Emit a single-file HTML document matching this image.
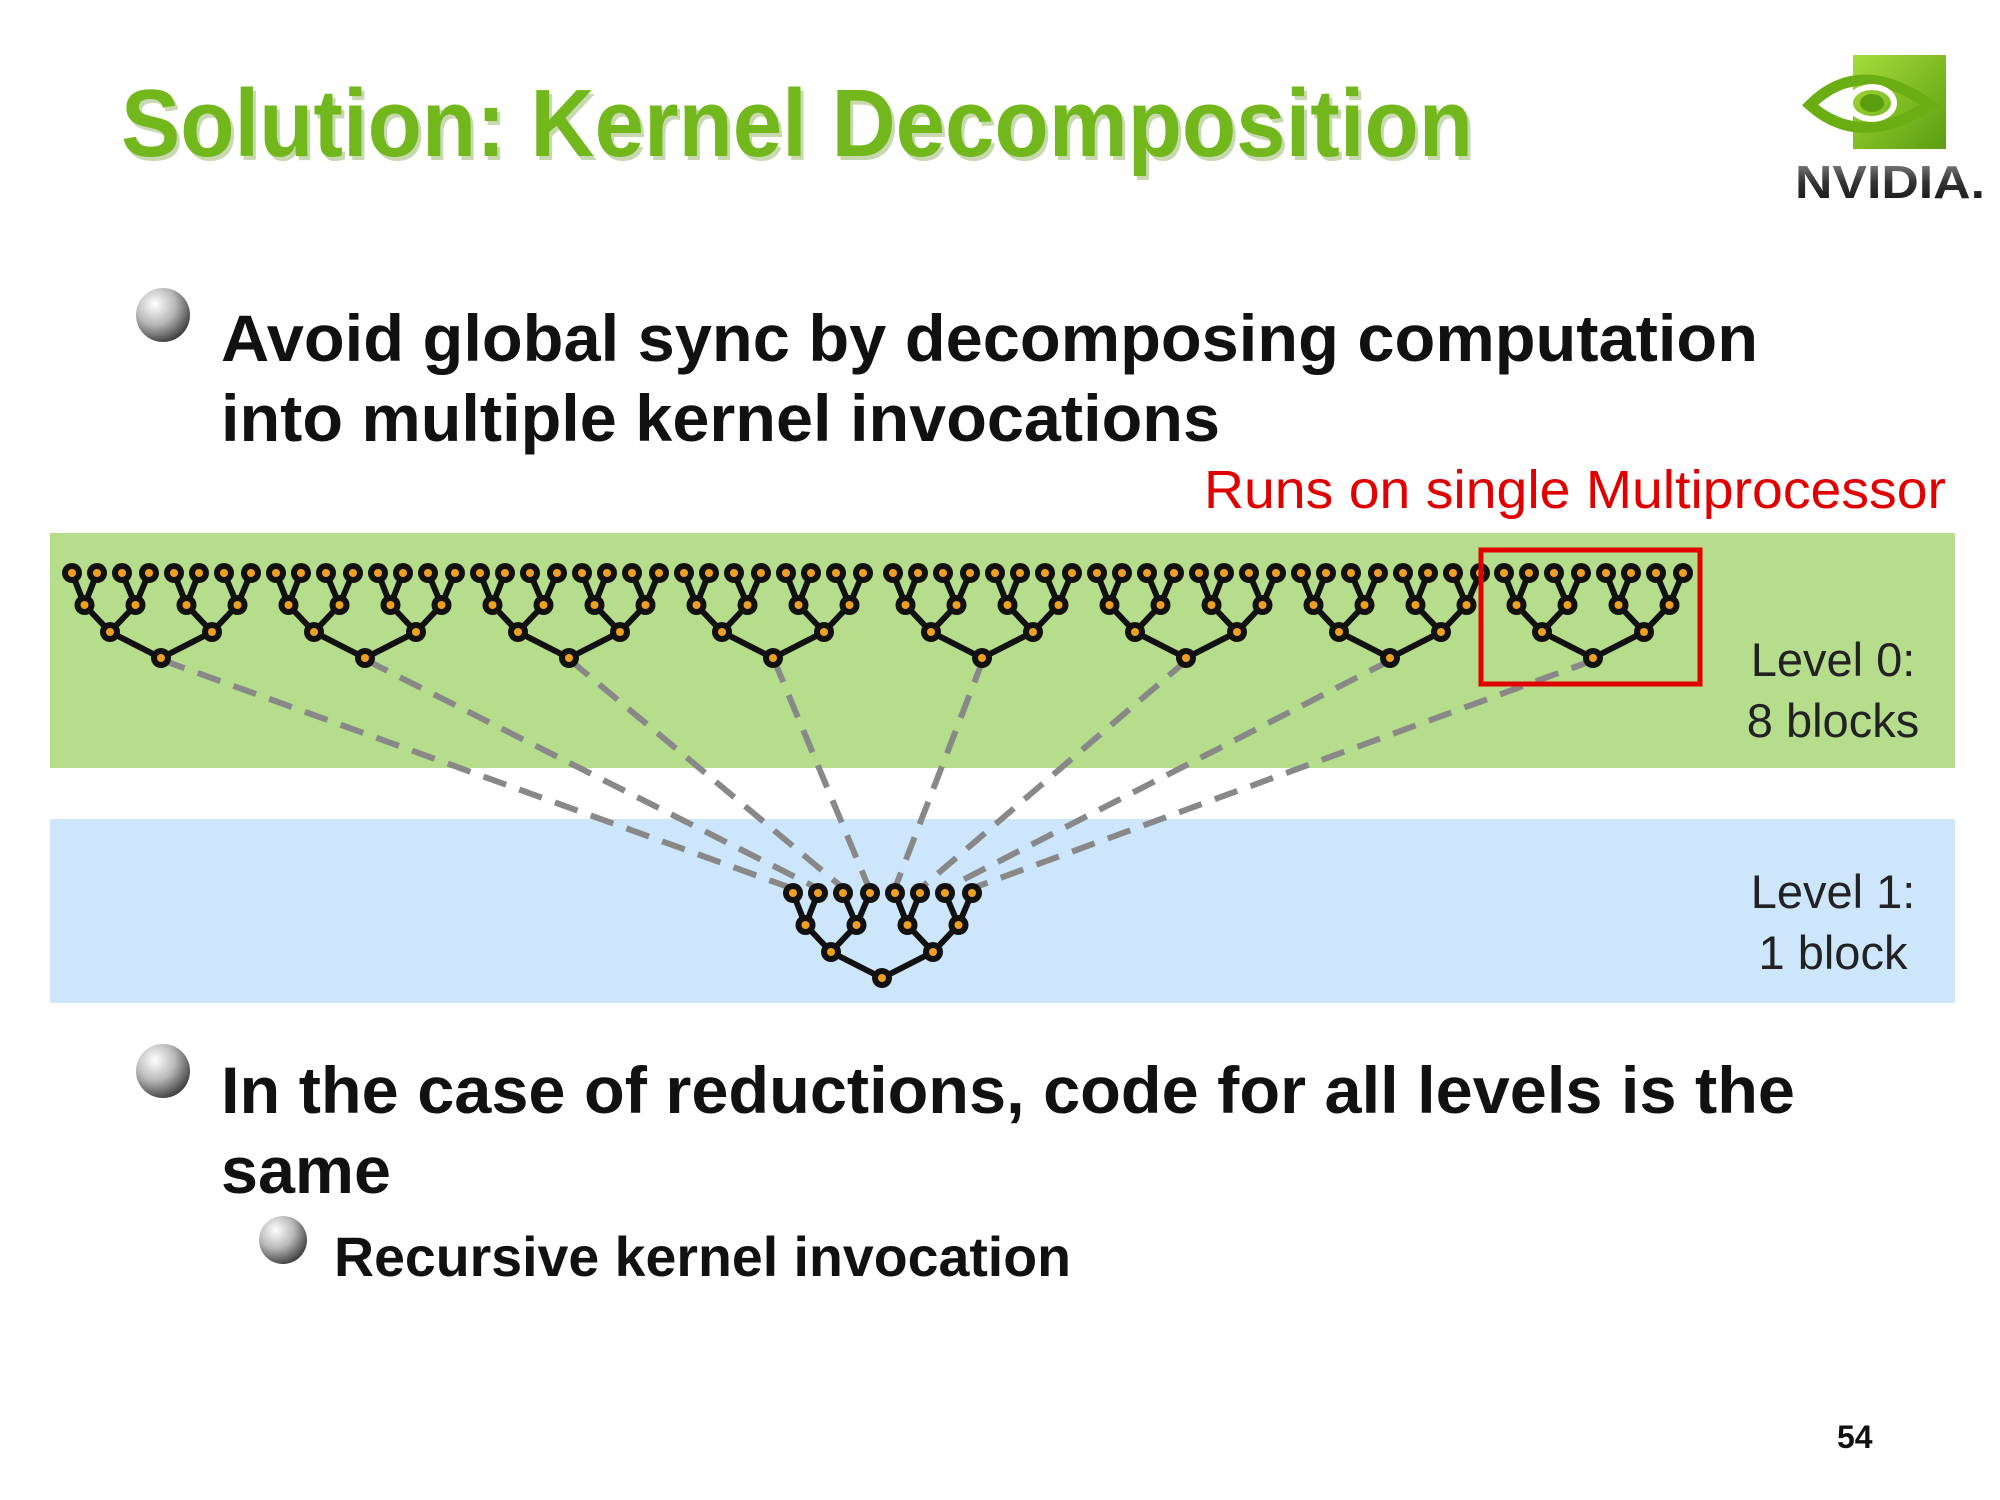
<!DOCTYPE html>
<html><head><meta charset="utf-8"><style>
html,body{margin:0;padding:0;background:#fff;}
svg{display:block;}
</style></head><body>
<svg id="s" width="2000" height="1500" viewBox="0 0 2000 1500" xmlns="http://www.w3.org/2000/svg" font-family="Liberation Sans, Arial, sans-serif">
<defs>
<radialGradient id="bul" cx="0.35" cy="0.3" r="0.75">
<stop offset="0" stop-color="#ffffff"/><stop offset="0.5" stop-color="#b8b8b8"/><stop offset="1" stop-color="#3a3a3a"/>
</radialGradient>
<linearGradient id="ng" x1="0" y1="0" x2="1" y2="1"><stop offset="0" stop-color="#a6dc3a"/><stop offset="1" stop-color="#5a9e10"/></linearGradient>
<linearGradient id="tg" x1="0" y1="0" x2="0" y2="1"><stop offset="0" stop-color="#999"/><stop offset="0.5" stop-color="#333"/><stop offset="1" stop-color="#111"/></linearGradient>
</defs>
<text x="124" y="160" font-size="96" font-weight="bold" fill="#c8d8b0" textLength="1352" lengthAdjust="spacingAndGlyphs">Solution: Kernel Decomposition</text>
<text x="121" y="156" font-size="96" font-weight="bold" fill="#72b81c" textLength="1352" lengthAdjust="spacingAndGlyphs">Solution: Kernel Decomposition</text>
<rect x="1853" y="55" width="93" height="94" fill="url(#ng)"/>
<path d="M1810 105 Q1860 55 1930 105 Q1860 150 1810 105Z" fill="none" stroke="#6aae14" stroke-width="11"/>
<ellipse cx="1872" cy="103" rx="22" ry="16" fill="none" stroke="#fff" stroke-width="6"/>
<ellipse cx="1872" cy="103" rx="12" ry="9" fill="#5a9e10"/>
<text x="1795" y="198" font-size="46" font-weight="bold" fill="url(#tg)" textLength="190" lengthAdjust="spacingAndGlyphs">NVIDIA.</text>
<circle cx="163" cy="315" r="27" fill="url(#bul)"/>
<text x="221" y="361" font-size="66" font-weight="bold" fill="#111" textLength="1537" lengthAdjust="spacingAndGlyphs">Avoid global sync by decomposing computation</text>
<text x="221" y="441" font-size="66" font-weight="bold" fill="#111" textLength="999" lengthAdjust="spacingAndGlyphs">into multiple kernel invocations</text>
<text x="1204" y="508" font-size="54" fill="#e00000" textLength="742" lengthAdjust="spacingAndGlyphs">Runs on single Multiprocessor</text>
<rect x="50" y="533" width="1905" height="235" fill="#b6dd8c"/>
<rect x="50" y="819" width="1905" height="184" fill="#cde6fb"/>
<text x="1833" y="676" font-size="47" fill="#222" text-anchor="middle">Level 0:</text>
<text x="1833" y="737" font-size="47" fill="#222" text-anchor="middle">8 blocks</text>
<text x="1833" y="908" font-size="47" fill="#222" text-anchor="middle">Level 1:</text>
<text x="1833" y="969" font-size="47" fill="#222" text-anchor="middle">1 block</text>
<g id="dash" stroke="#888" stroke-width="6" stroke-dasharray="24 14" fill="none"></g>
<g id="trees"></g>
<rect x="1481" y="550" width="219" height="134" fill="none" stroke="#e00000" stroke-width="5"/>
<circle cx="163" cy="1071" r="27" fill="url(#bul)"/>
<text x="221" y="1113" font-size="66" font-weight="bold" fill="#111" textLength="1574" lengthAdjust="spacingAndGlyphs">In the case of reductions, code for all levels is the</text>
<text x="221" y="1193" font-size="66" font-weight="bold" fill="#111" textLength="170" lengthAdjust="spacingAndGlyphs">same</text>
<circle cx="283" cy="1240" r="24" fill="url(#bul)"/>
<text x="334" y="1276" font-size="56" font-weight="bold" fill="#111" textLength="737" lengthAdjust="spacingAndGlyphs">Recursive kernel invocation</text>
<text x="1837" y="1448" font-size="32" font-weight="bold" fill="#111">54</text>
</svg>
<script>
(function(){
var NS="http://www.w3.org/2000/svg";
var T=document.getElementById("trees"),D=document.getElementById("dash");
function el(p,n,a){var e=document.createElementNS(NS,n);for(var k in a)e.setAttribute(k,a[k]);p.appendChild(e);return e;}
var offs=[-90,-65,-40,-13,12,37,62,89];
function tree(R,ry){
 var y=[ry-85,ry-53,ry-26,ry];
 var lv=[offs.map(function(o){return R+o;})];
 for(var l=1;l<4;l++){var p=lv[l-1],c=[];for(var i=0;i<p.length;i+=2)c.push((p[i]+p[i+1])/2);lv.push(c);}
 for(var l=1;l<4;l++)for(var i=0;i<lv[l].length;i++){
  el(T,"line",{x1:lv[l][i],y1:y[l],x2:lv[l-1][2*i],y2:y[l-1],stroke:"#111","stroke-width":6});
  el(T,"line",{x1:lv[l][i],y1:y[l],x2:lv[l-1][2*i+1],y2:y[l-1],stroke:"#111","stroke-width":6});
 }
 for(var l=0;l<4;l++)for(var i=0;i<lv[l].length;i++){
  el(T,"circle",{cx:lv[l][i],cy:y[l],r:10,fill:"#111"});
  el(T,"circle",{cx:lv[l][i],cy:y[l],r:4,fill:"#f0a020"});
 }
}
var roots=[162,366,570,774,983,1187,1391,1594];
for(var i=0;i<8;i++){
 el(D,"line",{x1:roots[i],y1:660,x2:791+26*i,y2:888});
}
for(var i=0;i<8;i++)tree(roots[i],658);
tree(883,978);
})();
</script>
</body></html>
